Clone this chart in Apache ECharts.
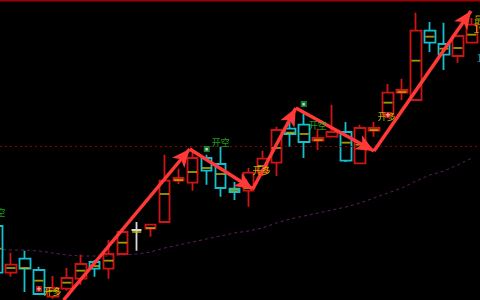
<!DOCTYPE html>
<html>
<head>
<meta charset="utf-8">
<script src="https://cdn.jsdelivr.net/npm/echarts@6/dist/echarts.min.js"></script>
<style>html,body{margin:0;padding:0;background:#000;overflow:hidden;width:480px;height:300px;}#c{position:absolute;left:-10.5px;top:0;width:490.5px;height:300px;}</style>
</head>
<body>
<div id="c"></div>
<script>
const categories = ['1','2','3','4','5','6','7','8','9','10','11','12','13','14','15','16','17','18','19','20','21','22','23','24','25','26','27','28','29','30','31','32','33','34','35'];
const opens  = [16.11,15.41,15.62,15.45,15.05,15.17,15.32,15.57,15.47,15.69,16.05,16.07,16.17,16.79,16.76,17.13,17.04,16.67,16.64,16.91,17.06,17.57,17.63,17.39,17.45,17.52,17.05,17.54,17.78,18.11,18.00,19.04,18.84,18.66,18.86];
const closes = [15.41,15.53,15.47,15.09,15.18,15.33,15.54,15.47,15.69,16.02,16.05,16.13,16.79,16.83,17.13,16.94,16.68,16.62,16.91,17.12,17.55,17.49,17.37,17.43,17.52,17.09,17.58,17.58,18.11,18.15,19.04,18.86,18.68,18.96,19.13];
const lows   = [15.41,15.35,15.12,15.08,15.02,15.14,15.23,15.35,15.32,15.69,15.74,15.95,16.17,16.74,16.64,16.73,16.55,16.50,16.40,16.86,16.86,17.30,17.13,17.25,17.45,17.07,17.05,17.45,17.73,18.00,18.00,18.72,18.45,18.56,18.86];
const highs  = [16.11,15.71,15.74,15.50,15.36,15.48,15.68,15.60,15.90,16.08,16.17,16.14,17.18,16.97,17.22,17.18,17.30,16.77,16.98,17.24,17.60,17.72,17.82,17.57,17.93,17.67,17.63,17.67,18.24,18.32,19.31,19.17,19.16,18.96,19.23];
const midLine = [15.77,15.48,15.48,15.29,15.14,15.26,15.44,15.51,15.59,15.86,16.02,16.08,16.59,16.80,16.92,16.98,16.89,16.65,16.68,17.01,17.28,17.51,17.49,17.40,null,17.36,17.33,17.55,17.96,18.12,18.59,18.95,18.77,18.78,18.98];
const maLine = [15.765,15.75,15.75,15.735,15.705,15.675,15.66,15.66,15.66,15.675,15.69,15.72,15.78,15.825,15.87,15.915,15.96,16.005,16.035,16.08,16.155,16.215,16.26,16.305,16.35,16.395,16.455,16.53,16.605,16.68,16.785,16.875,16.935,17.025,17.13];
const refLevel = 17.31;
// arrows: [startIndex, startPrice, endIndex, endPrice]
const arrows = [
  [4.77, 15.00, 13.80, 17.265],
  [13.80, 17.265, 18.32, 16.665],
  [18.32, 16.665, 21.40, 17.88],
  [21.40, 17.88, 27.00, 17.235],
  [27.00, 17.235, 33.94, 19.335]
];
// signal texts: [index, price, text]
const buyTexts  = [[3.98,15.12,'开多'],[18.96,16.935,'开多'],[27.92,17.745,'开多']];
const sellTexts = [[-0.04,16.305,'开空'],[16.02,17.355,'开空'],[22.97,17.61,'开空']];
const buyIcons  = [[3.01,15.165],[27.99,17.775]];
const sellIcons = [[15.02,17.265],[21.97,17.94]];
const edgeLabels = [[34.12,19.20,'最高'],[34.09,19.065,'19.13'],[34.30,18.63,'18.86']];

const kData = opens.map((o,i)=>[o, closes[i], lows[i], highs[i]]);
const midData = midLine.map((v,i)=> v==null ? null : [i, v]);

const chart = echarts.init(document.getElementById('c'), null, {renderer:'canvas'});
const font = '"Noto Sans CJK SC", "Noto Sans", sans-serif';
chart.setOption({
  backgroundColor:'#000',
  animation:false,
  grid:{left:0, right:2.25, top:0, bottom:0},
  xAxis:[
    {type:'category', data:categories, boundaryGap:true, show:false},
    {type:'value', min:-0.5, max:34.5, show:false}
  ],
  yAxis:{type:'value', min:15, max:19.5, show:false, splitLine:{show:false}},
  graphic:[{type:'rect', left:0, top:0, shape:{width:500, height:1.5}, style:{fill:'#a00000'}, silent:true}],
  series:[
    {type:'line', data:maLine, symbol:'none', lineStyle:{color:'#5e1f5e', width:1, type:[3,3]}, z:1},
    {type:'candlestick', data:kData, barWidth:11,
      itemStyle:{color:'transparent', color0:'transparent', borderColor:'#d01414', borderColor0:'#14c0d0', borderColorDoji:'#d8d8d8', borderWidth:1.8},
      markLine:{silent:true, symbol:'none', label:{show:false},
        lineStyle:{color:'#8a0000', type:[2,3], width:1},
        data:[{yAxis:refLevel}]}, z:2},
    {type:'scatter', data:midData, symbol:'rect', symbolSize:[9,1.8], itemStyle:{color:'#c8c000'}, z:3},
    {type:'scatter', xAxisIndex:1, data:buyTexts.map(d=>[d[0],d[1],d[2]]), symbolSize:1, itemStyle:{color:'transparent'},
      label:{show:true, position:'inside', formatter:p=>p.value[2], color:'#e0e000', fontSize:9, fontFamily:font}, z:5,
      markLine:{silent:true, symbol:['none','arrow'], symbolSize:[12,18], label:{show:false},
        lineStyle:{color:'#ff3838', width:3.5, type:'solid', opacity:1},
        data:arrows.map(a=>[{coord:[a[0],a[1]]},{coord:[a[2],a[3]]}])}},
    {type:'scatter', xAxisIndex:1, data:sellTexts.map(d=>[d[0],d[1],d[2]]), symbolSize:1, itemStyle:{color:'transparent'},
      label:{show:true, position:'inside', formatter:p=>p.value[2], color:'#22cc22', fontSize:9, fontFamily:font}, z:5},
    {type:'scatter', xAxisIndex:1, data:buyIcons, symbol:'rect', symbolSize:6, itemStyle:{color:'#e01818'},
      label:{show:true, position:'inside', formatter:'+', color:'#fff', fontSize:7, fontWeight:'bold', fontFamily:'DejaVu Sans'}, z:6},
    {type:'scatter', xAxisIndex:1, data:sellIcons, symbol:'rect', symbolSize:6, itemStyle:{color:'#1e9c3c'},
      label:{show:true, position:'inside', formatter:'■', color:'#e8ffe8', fontSize:3, fontFamily:'DejaVu Sans'}, z:6},
    {type:'scatter', xAxisIndex:1, data:edgeLabels.slice(0,2), symbolSize:1, itemStyle:{color:'transparent'},
      label:{show:true, position:'right', distance:0, formatter:p=>p.value[2], color:'#d8d800', fontSize:10, fontFamily:font}, z:5},
    {type:'scatter', xAxisIndex:1, data:edgeLabels.slice(2), symbolSize:1, itemStyle:{color:'transparent'},
      label:{show:true, position:'right', distance:0, formatter:p=>p.value[2], color:'#10b8cc', fontSize:10, fontFamily:font}, z:5}
  ]
});
</script>
</body>
</html>
